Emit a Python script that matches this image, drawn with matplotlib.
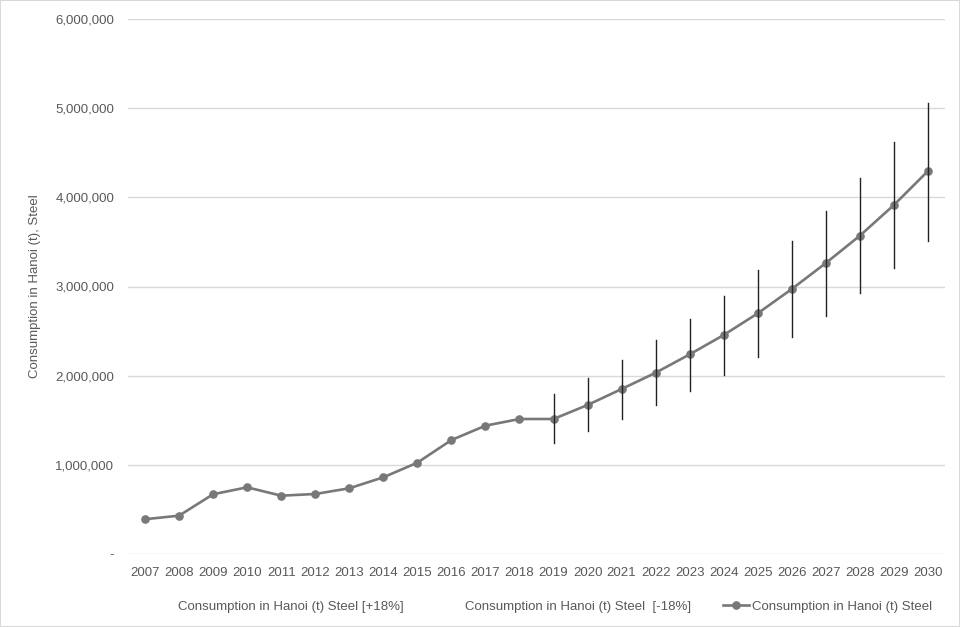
import matplotlib
matplotlib.use('Agg')
import matplotlib.pyplot as plt
from matplotlib.lines import Line2D
from matplotlib.patches import Rectangle
from matplotlib.ticker import FuncFormatter

years = [str(y) for y in range(2007, 2031)]
consumption = [390000, 430000, 670000, 748000, 654000, 673000, 737000, 860000,
               1024000, 1278000, 1439000, 1514000, 1514000, 1671000, 1850000,
               2033000, 2239000, 2456000, 2699000, 2972000, 3263000, 3570000,
               3914000, 4295000]
# error bar ends (2019-2030)
err_years = [str(y) for y in range(2019, 2031)]
upper_end = [1791000, 1970000, 2180000, 2403000, 2635000, 2893000, 3185000,
             3507000, 3847000, 4213000, 4624000, 5061000]
lower_end = [1241000, 1376000, 1514000, 1671000, 1832000, 2011000, 2213000,
             2437000, 2669000, 2924000, 3204000, 3514000]

label_main = 'Consumption in Hanoi (t) Steel'
label_up = 'Consumption in Hanoi (t) Steel [+18%]'
label_down = 'Consumption in Hanoi (t) Steel  [-18%]'

plt.rcParams['font.family'] = ['Liberation Sans', 'DejaVu Sans']
txt = '#595959'
grid = '#d9d9d9'
line_col = '#787878'

fig = plt.figure(figsize=(9.6, 6.27), dpi=100)
ax = fig.add_axes([128/960, 1-554/627, (945-128)/960, (554-19)/627])

x = list(range(len(years)))
ax.plot(x, consumption, color=line_col, lw=1.9, marker='o', ms=5.2, zorder=3)

ex = [years.index(y) for y in err_years]
for i, xi in enumerate(ex):
    ax.plot([xi, xi], [lower_end[i], upper_end[i]], color='#222222', lw=1.0, zorder=4)

ax.set_xlim(-0.5, len(years) - 0.5)
ax.set_ylim(0, 6000000)
ax.set_yticks(range(0, 6000001, 1000000))
ax.yaxis.set_major_formatter(FuncFormatter(lambda v, p: '-' if v == 0 else f'{int(v):,}'))
ax.set_xticks(x)
ax.set_xticklabels(years)
ax.grid(axis='y', color=grid, lw=1)
ax.set_axisbelow(True)
for s in ax.spines.values():
    s.set_visible(False)
ax.tick_params(length=0, labelsize=9.5, labelcolor=txt)
ax.tick_params(axis='y', pad=10)
ax.tick_params(axis='x', pad=9)
ax.set_ylabel('Consumption in Hanoi (t), Steel', color=txt, fontsize=9.5, labelpad=10)

handles = [Line2D([], [], color='none'),
           Line2D([], [], color='none'),
           Line2D([], [], color=line_col, lw=1.9, marker='o', ms=5.2)]
fig.legend(handles, [label_up, label_down, label_main], loc='center',
           bbox_to_anchor=(0.563, 0.032), ncol=3, frameon=False,
           fontsize=9.5, labelcolor=txt, columnspacing=2.4, handlelength=2.0,
           handletextpad=0.2)

fig.patches.append(Rectangle((0, 0), 1, 1, transform=fig.transFigure,
                             fill=False, edgecolor=grid, lw=1.5))

fig.savefig('out.png', dpi=100)
